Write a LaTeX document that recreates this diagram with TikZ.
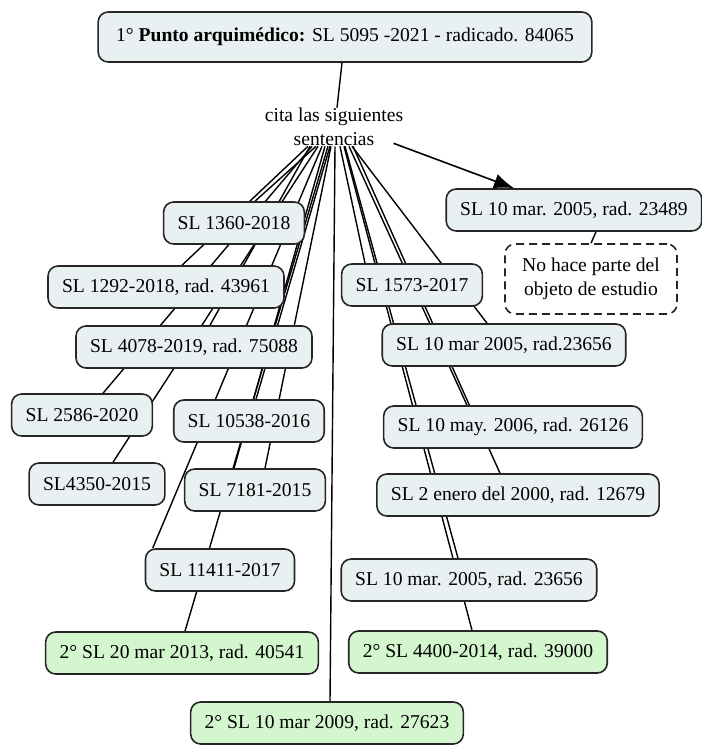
\documentclass[tikz,border=0pt]{standalone}
\usepackage{fontspec}
\setmainfont{Liberation Serif}
\usepackage{tikz}
\usetikzlibrary{arrows.meta,backgrounds,positioning}

\definecolor{conceptgray}{RGB}{233,240,242}
\definecolor{conceptgreen}{RGB}{212,246,206}

\begin{document}
\begin{tikzpicture}[x=0.5pt,y=-0.5pt,
	concept/.style={draw=black!85,line width=0.8pt,rounded corners=5pt,fill=conceptgray,
		inner xsep=7pt,minimum height=21pt,font=\fontsize{9.8}{12}\selectfont},
	second/.style={concept,fill=conceptgreen},
	nota/.style={concept,fill=white,dashed,dash pattern=on 4pt off 2.5pt,align=center,
		minimum width=86pt,minimum height=35pt},
	link/.style={line width=0.7pt}]
	\useasboundingbox (0,0) rectangle (702,746);

	% main concept and linking phrase
	\node[concept,minimum height=25pt,inner xsep=9pt] (punto) at (345,37) {1° \textbf{Punto arquimédico:} SL 5095 -2021 - radicado. 84065};
	\node[align=center,inner sep=0pt,font=\fontsize{9.8}{12}\selectfont] (cita) at (334,127) {cita las siguientes\\sentencias};

	% left branch
	\node[concept] (sl1360) at (234,223) {SL 1360-2018};
	\node[concept] (sl1292) at (166,287) {SL 1292-2018, rad. 43961};
	\node[concept] (sl4078) at (194,347) {SL 4078-2019, rad. 75088};
	\node[concept] (sl2586) at (82,415) {SL 2586-2020};
	\node[concept] (sl10538) at (249,421) {SL 10538-2016};
	\node[concept] (sl4350) at (97,484) {SL4350-2015};
	\node[concept] (sl7181) at (255,490) {SL 7181-2015};
	\node[concept] (sl11411) at (220,570) {SL 11411-2017};
	\node[second] (sl2013) at (182,653) {2° SL 20 mar 2013, rad. 40541};
	\node[second] (sl2009) at (327,723) {2° SL 10 mar 2009, rad. 27623};

	% right branch
	\node[concept] (sl23489) at (574,210) {SL 10 mar. 2005, rad. 23489};
	\node[nota] (nohace) at (591,279) {No hace parte del\\objeto de estudio};
	\node[concept] (sl1573) at (412,285) {SL 1573-2017};
	\node[concept] (mar05a) at (504,345) {SL 10 mar 2005, rad.23656};
	\node[concept] (may06) at (513,427) {SL 10 may. 2006, rad. 26126};
	\node[concept] (enero00) at (518,495) {SL 2 enero del 2000, rad. 12679};
	\node[concept] (mar05b) at (469,580) {SL 10 mar. 2005, rad. 23656};
	\node[second] (sl4400) at (478,652) {2° SL 4400-2014, rad. 39000};

	\begin{scope}[on background layer]
		\draw[link] ([xshift=-1.5pt]punto.south) -- ([xshift=1.5pt]cita.north);
		\draw[link] ([xshift=-9pt]cita.south) -- ([xshift=10.5pt]sl1360.north);
		\draw[link] ([xshift=-13pt]cita.south) -- ([xshift=8pt]sl1292.north);
		\draw[link] ([xshift=-12pt]cita.south) -- ([xshift=8pt]sl4078.north);
		\draw[link] ([xshift=-11pt]cita.south) -- ([xshift=10.5pt]sl2586.north);
		\draw[link] ([xshift=-8pt]cita.south) -- ([xshift=8pt]sl4350.north);
		\draw[link] ([xshift=-2pt]cita.south) -- ([xshift=3.5pt]sl10538.north);
		\draw[link] ([xshift=-4.5pt]cita.south) -- ([xshift=-10.5pt]sl7181.north);
		\draw[link] ([xshift=-1.5pt]cita.south) -- ([xshift=5pt]sl7181.north);
		\draw[link] ([xshift=-6pt]cita.south) -- ([xshift=4pt]sl11411.north west);
		\draw[link] ([xshift=-3pt]cita.south) -- ([xshift=1.5pt]sl2013.north);
		\draw[link] ([xshift=0.5pt]cita.south) -- ([xshift=1.5pt]sl2009.north);
		\draw[link] ([xshift=3pt]cita.south) -- ([xshift=-23.5pt]sl1573.north);
		\draw[link] ([xshift=9pt]cita.south) -- ([xshift=-8.5pt]mar05a.north);
		\draw[link] ([xshift=7.5pt]cita.south) -- ([xshift=-23pt]may06.north);
		\draw[link] ([xshift=9.5pt]cita.south) -- ([xshift=-9pt]enero00.north);
		\draw[link] ([xshift=5.5pt]cita.south) -- ([xshift=-5.5pt]mar05b.north);
		\draw[link] ([xshift=5pt]cita.south) -- ([xshift=-3pt]sl4400.north);
		\draw[link] ([xshift=11pt]sl23489.south) -- (nohace.north);
	\end{scope}

	\draw[link,line width=0.8pt,-{Latex[length=10pt,width=7.5pt]}] ([xshift=-5pt,yshift=1.5pt]cita.south east) -- ([xshift=-30pt]sl23489.north);
\end{tikzpicture}
\end{document}
